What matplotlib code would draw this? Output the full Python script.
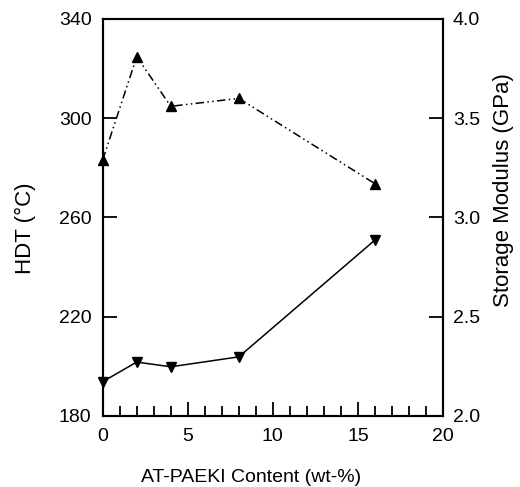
import matplotlib
matplotlib.use('Agg')
import matplotlib.pyplot as plt
from matplotlib.ticker import MultipleLocator

plt.rcParams['font.family'] = ['Liberation Sans', 'DejaVu Sans']

# AT-PAEKI content (wt-%)
content = [0, 2, 4, 8, 16]
# HDT (°C) - lower, solid line
hdt = [193.8, 201.7, 199.8, 203.8, 250.9]
# storage modulus (GPa) - upper, dash-dot-dot line
modulus = [3.29, 3.81, 3.56, 3.60, 3.17]

x_ticks = [0, 5, 10, 15, 20]
hdt_ticks = [180, 220, 260, 300, 340]
mod_ticks = [2.0, 2.5, 3.0, 3.5, 4.0]

FS = 14

fig, ax = plt.subplots(figsize=(5.2, 4.87), dpi=100)
fig.subplots_adjust(left=0.1975, right=0.852, top=0.961, bottom=0.146)
ax2 = ax.twinx()

ax.plot(content, hdt, color='black', lw=1.1, marker='v', ms=7, clip_on=False, zorder=5)
ax2.plot(content, modulus, color='black', lw=1.1, marker='^', ms=7,
         dashes=(5.5, 2.2, 1, 2.2, 1, 2.2), clip_on=False, zorder=5)

ax.set_xlim(0, 20)
ax.set_ylim(180, 340)
ax2.set_ylim(2.0, 4.0)
ax.set_xticks(x_ticks)
ax.xaxis.set_minor_locator(MultipleLocator(1))
ax.set_yticks(hdt_ticks)
ax2.set_yticks(mod_ticks)
ax2.set_yticklabels([f'{v:.1f}' for v in mod_ticks])

ax.tick_params(axis='x', which='major', direction='in', length=10, width=1.3, labelsize=FS, pad=9)
ax.tick_params(axis='x', which='minor', direction='in', length=7, width=1.3)
ax.tick_params(axis='y', direction='in', length=10, width=1.3, labelsize=FS, pad=8)
ax2.tick_params(axis='y', direction='in', length=10, width=1.3, labelsize=FS, pad=7)

for a in (ax, ax2):
    for s in a.spines.values():
        s.set_linewidth(1.5)

ax.set_xlabel('AT-PAEKI Content (wt-%)', fontsize=FS)
ax.set_ylabel('HDT (°C)', fontsize=16)
ax2.set_ylabel('Storage Modulus (GPa)', fontsize=16)
# labels sit a little off-centre in the original
ax.xaxis.set_label_coords(0.436, -0.135)
ax.yaxis.set_label_coords(-0.196, 0.474)
ax2.yaxis.set_label_coords(1.147, 0.57)

fig.savefig('out.png', dpi=100)
